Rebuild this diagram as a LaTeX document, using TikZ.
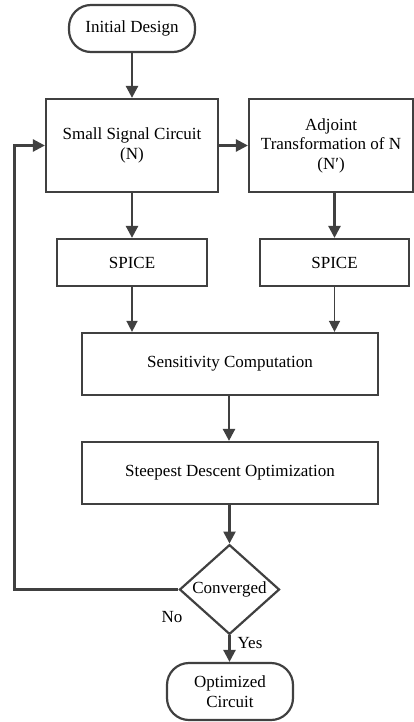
\documentclass[tikz,border=0pt]{standalone}
\usepackage{fontspec}
\setmainfont{Liberation Serif}
\usetikzlibrary{arrows.meta,shapes.geometric}
\definecolor{ln}{HTML}{404040}
\begin{document}
\begin{tikzpicture}[x=1pt,y=-1pt,
  every node/.style={font=\fontsize{17}{19.5}\selectfont, text=black, align=center},
  box/.style={draw=ln, line width=2.2pt, minimum width=#1, inner sep=0pt},
  term/.style={draw=ln, line width=2.2pt, rounded corners=22pt, minimum width=126pt, inner sep=0pt},
  arr/.style={draw=ln, line width=2.5pt, -{Triangle[length=12pt,width=12pt]}},
  thinarr/.style={draw=ln, line width=1.5pt, -{Triangle[length=11pt,width=11pt]}}
]
\useasboundingbox (0,0) rectangle (414,722);
\node[term, minimum height=47pt] (init) at (132,28.5) {Initial Design};
\node[box=172pt, minimum height=93pt] (small) at (132,145.5) {Small Signal Circuit\\(N)};
\node[box=164pt, minimum height=93pt] (adj) at (331,145.5) {Adjoint\\Transformation of N\\(N′)};
\node[box=150pt, minimum height=47pt] (sp1) at (132,262.5) {SPICE};
\node[box=149pt, minimum height=47pt] (sp2) at (334.5,262.5) {SPICE};
\node[box=296pt, minimum height=62pt] (sens) at (230,364) {Sensitivity Computation};
\node[box=296pt, minimum height=62pt] (steep) at (230,473) {Steepest Descent Optimization};
\node[draw=ln, line width=2.2pt, diamond, minimum width=100pt, minimum height=75pt, inner sep=0pt] (conv) at (229.5,589.5) {Converged};
\node[term, minimum height=57pt] (opt) at (230,691.5) {Optimized\\Circuit};
\node (no) at (172,617) {No};
\node (yes) at (250,643) {Yes};
\coordinate (fb) at (14.5,145.5);
\draw[arr] (init) -- (small);
\draw[arr] (small) -- (adj);
\draw[arr] (small) -- (sp1);
\draw[arr] (adj.south -| sp2) -- (sp2);
\draw[thinarr] (sp1) -- (sp1 |- sens.north);
\draw[thinarr] (sp2) -- (sp2 |- sens.north);
\draw[arr] (sens.south -| 229,0) -- (229,0 |- steep.north);
\draw[arr] (steep.south -| conv) -- (conv);
\draw[arr] (conv) -- (conv |- opt.north);
\draw[arr] (conv.west) -| (fb) -- (small.west);
\end{tikzpicture}
\end{document}
